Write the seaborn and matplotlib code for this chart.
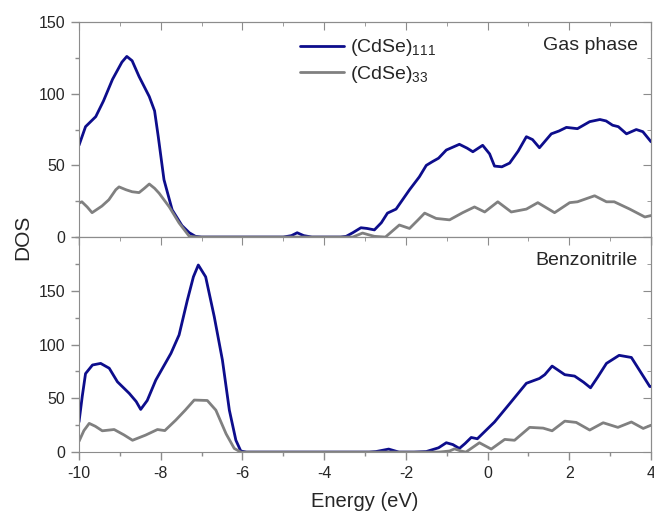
import matplotlib
matplotlib.use('Agg')
import matplotlib.pyplot as plt
from matplotlib.ticker import MultipleLocator
import numpy as np
import pandas as pd
import seaborn as sns

# DOS curves (energy in eV, DOS in states)
gas_111_x = [-10, -9.84, -9.59, -9.4, -9.18, -8.95, -8.83, -8.7, -8.53, -8.28, -8.15, -8.06,
             -7.92, -7.72, -7.48, -7.3, -7.15, -7.0, -5.0, -4.8, -4.66, -4.5, -4.3, -3.6,
             -3.46, -3.3, -3.10, -2.95, -2.77, -2.6, -2.45, -2.24, -1.91, -1.67, -1.5, -1.35,
             -1.2, -1.01, -0.69, -0.5, -0.36, -0.12, 0.05, 0.17, 0.35, 0.54, 0.75, 0.95, 1.1,
             1.27, 1.56, 1.75, 1.93, 2.2, 2.5, 2.75, 2.9, 3.06, 3.2, 3.4, 3.64, 3.8, 4.0]
gas_111_y = [64, 77, 84, 95, 110, 122, 126, 123, 112, 98, 88, 70,
             40, 19, 8, 3, 0.5, 0, 0, 1, 3, 1, 0, 0,
             0.5, 3, 6.5, 6, 5, 10, 16.7, 19.5, 33, 42, 50, 52.6,
             55, 60.7, 64.7, 62, 59.5, 64, 58, 49.5, 49, 51.6, 60, 70, 68,
             62.3, 72, 74, 76.5, 75.6, 80.5, 82, 81, 78, 77, 72, 75, 73.5, 66.5]

gas_33_x = [-10, -9.93, -9.8, -9.68, -9.44, -9.27, -9.1, -9.02, -8.85, -8.7, -8.53, -8.4,
            -8.28, -8.15, -8.04, -7.79, -7.55, -7.3, -7.1, -3.3, -3.06, -2.9, -2.77, -2.5,
            -2.16, -1.91, -1.7, -1.54, -1.26, -0.93, -0.61, -0.32, -0.07, 0.25, 0.58, 0.95,
            1.23, 1.64, 2.01, 2.2, 2.62, 2.91, 3.1, 3.48, 3.85, 4.0]
gas_33_y = [23.7, 24.6, 21, 17, 21.6, 26, 33, 35, 33, 31.6, 31, 34,
            37, 34, 30.6, 21, 9.8, 0.5, 0, 0, 2.8, 1.5, 0.5, 0,
            8.4, 6, 12, 16.7, 13, 12, 17, 21, 17.5, 24.6, 17.5, 19.5,
            24, 17, 24, 24.6, 28.8, 24.6, 24.6, 19.5, 14, 15]

bzn_111_x = [-10, -9.92, -9.84, -9.67, -9.47, -9.26, -9.06, -8.77, -8.6, -8.49, -8.33, -8.12,
             -7.75, -7.55, -7.35, -7.2, -7.08, -6.9, -6.69, -6.49, -6.32, -6.16, -6.04, -5.9,
             -2.9, -2.73, -2.42, -2.17, -1.8, -1.5, -1.2, -1.01, -0.85, -0.69, -0.55, -0.4,
             -0.25, 0.17, 0.54, 0.95, 1.27, 1.4, 1.58, 1.89, 2.13, 2.35, 2.52, 2.7, 2.91,
             3.22, 3.52, 3.77, 3.97, 4.0]
bzn_111_y = [28, 52, 73, 81, 82.5, 78, 65.4, 54.6, 47, 39.7, 48, 67,
             91.8, 109, 141, 163, 174, 163, 126, 85.6, 39, 11, 1, 0,
             0, 0.5, 2.8, 0, 0, 0.5, 4, 8.7, 7, 3.4, 8, 13.6,
             12.4, 28, 45, 64, 68.5, 72, 80, 72, 70.7, 65, 59.8, 70, 82.5,
             90, 88, 73, 61, 61]

bzn_33_x = [-10, -9.88, -9.75, -9.6, -9.43, -9.14, -8.9, -8.69, -8.37, -8.08, -7.9, -7.63,
            -7.4, -7.18, -6.86, -6.65, -6.4, -6.2, -6.04, -1.2, -0.93, -0.81, -0.65, -0.53,
            -0.2, 0.09, 0.42, 0.66, 1.03, 1.36, 1.58, 1.89, 2.17, 2.5, 2.83, 3.19, 3.52,
            3.81, 4.0]
bzn_33_y = [10, 20, 26.7, 24, 19.8, 21, 16, 11, 15.8, 21, 20, 29.8,
            39, 48.4, 48, 39, 17, 3.4, 0, 0, 1, 3, 1, 0,
            8.7, 2.8, 11.8, 11, 23, 22.3, 19.8, 28.8, 27.6, 20.5, 27.3, 23, 28,
            22, 25]

series_labels = [r'(CdSe)$_{111}$', r'(CdSe)$_{33}$']
line_colors = ['#0d0d8c', '#808080']
frame_color = '#8c8c8c'

sns.set_style('ticks')
plt.rcParams['font.family'] = ['Liberation Sans', 'DejaVu Sans']
plt.rcParams['mathtext.default'] = 'regular'
plt.rcParams['axes.unicode_minus'] = False

fig = plt.figure(figsize=(6.54, 5.12), dpi=100)
ax_top = fig.add_axes([0.1208, 0.537, 0.8746, 0.420])
ax_bot = fig.add_axes([0.1208, 0.117, 0.8746, 0.420], sharex=ax_top)

panels = [
    (ax_top, gas_111_x, gas_111_y, gas_33_x, gas_33_y, 'Gas phase', 150),
    (ax_bot, bzn_111_x, bzn_111_y, bzn_33_x, bzn_33_y, 'Benzonitrile', 200),
]

for ax, x1, y1, x2, y2, name, ytop in panels:
    sns.lineplot(x=x1, y=y1, ax=ax, color=line_colors[0], lw=2, label=series_labels[0],
                 estimator=None, sort=False, solid_joinstyle='round')
    sns.lineplot(x=x2, y=y2, ax=ax, color=line_colors[1], lw=2, label=series_labels[1],
                 estimator=None, sort=False, solid_joinstyle='round')
    ax.set_xlim(-10, 4)
    ax.set_ylim(0, ytop)
    ax.xaxis.set_major_locator(MultipleLocator(2))
    ax.xaxis.set_minor_locator(MultipleLocator(1))
    ax.yaxis.set_major_locator(MultipleLocator(50))
    ax.yaxis.set_minor_locator(MultipleLocator(25))
    # left/bottom ticks point out
    ax.tick_params(which='both', direction='out', color=frame_color, labelsize=11.5,
                   width=1, pad=4)
    ax.tick_params(which='major', length=6)
    ax.tick_params(which='minor', length=3)
    for sp in ax.spines.values():
        sp.set_color(frame_color)
    # mirrored ticks on top/right point in
    sx = ax.secondary_xaxis('top')
    sx.xaxis.set_major_locator(MultipleLocator(2))
    sx.xaxis.set_minor_locator(MultipleLocator(1))
    sx.tick_params(which='both', direction='in', color=frame_color, labeltop=False)
    sx.tick_params(which='major', length=6)
    sx.tick_params(which='minor', length=3)
    sx.spines['top'].set_color(frame_color)
    sy = ax.secondary_yaxis('right')
    sy.yaxis.set_major_locator(MultipleLocator(50))
    sy.yaxis.set_minor_locator(MultipleLocator(25))
    sy.tick_params(which='both', direction='in', color=frame_color, labelright=False)
    sy.tick_params(which='major', length=6)
    sy.tick_params(which='minor', length=3)
    sy.spines['right'].set_color(frame_color)
    ax.text(0.977, 0.89, name, transform=ax.transAxes, ha='right', va='center', fontsize=14)

# the lower panel reaches 200 but shows no label there
ax_bot.set_yticks([0, 50, 100, 150])
ax_bot.yaxis.set_minor_locator(MultipleLocator(25))
plt.setp(ax_top.get_xticklabels(), visible=False)

ax_top.legend(loc='upper left', bbox_to_anchor=(0.355, 1.01), frameon=False, fontsize=14,
              handlelength=2.3, handletextpad=0.3, labelspacing=0.3)
ax_bot.get_legend().remove()

ax_top.set_xlabel('')
ax_bot.set_xlabel('Energy (eV)', fontsize=14.5, labelpad=8)
ax_top.set_ylabel('')
ax_bot.set_ylabel('')
fig.text(0.035, 0.537, 'DOS', rotation=90, ha='center', va='center', fontsize=15)

fig.savefig('out.png', dpi=100)
